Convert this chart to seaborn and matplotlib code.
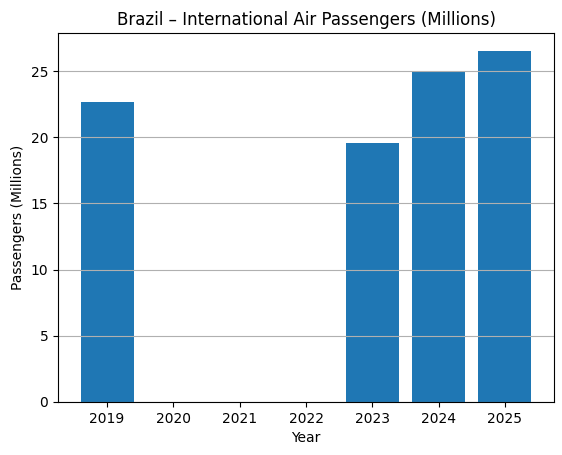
import matplotlib
matplotlib.use("Agg")
import matplotlib.pyplot as plt
import seaborn as sns
import pandas as pd

# Datos
years = ["2019", "2020", "2021", "2022", "2023", "2024", "2025"]
passengers = [22.65, 0, 0, 0, 19.55, 24.95, 26.55]

df = pd.DataFrame({"Year": years, "Passengers": passengers})

fig, ax = plt.subplots(figsize=(5.62, 4.55), dpi=100)
fig.subplots_adjust(left=0.1032, right=0.9858, top=0.9275, bottom=0.1165)

sns.barplot(data=df, x="Year", y="Passengers", color="#1f77b4",
            saturation=1, width=0.8, ax=ax)

ax.set_xlim(-0.74, 6.74)
ax.set_ylim(0, 27.88)
ax.grid(axis="y")
ax.set_title("Brazil – International Air Passengers (Millions)")
ax.set_xlabel("Year")
ax.set_ylabel("Passengers (Millions)")

plt.savefig("out.png", dpi=100)
